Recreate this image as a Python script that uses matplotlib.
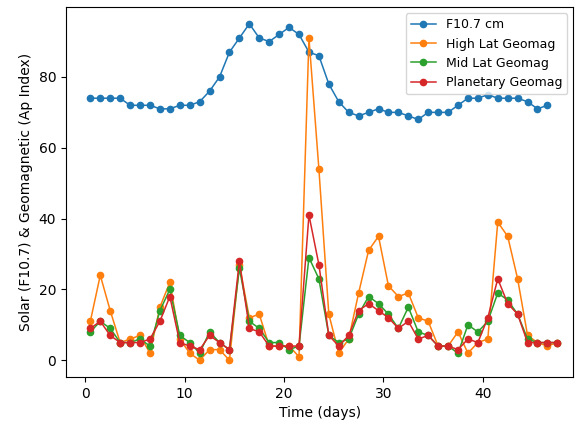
import matplotlib
matplotlib.use("Agg")
import matplotlib.pyplot as plt

days_f107 = [0.5, 1.5, 2.5, 3.5, 4.5, 5.5, 6.5, 7.5, 8.5, 9.5, 10.5, 11.5, 12.5, 13.5, 14.5,
             15.5, 16.5, 17.5, 18.5, 19.5, 20.5, 21.5, 22.5, 23.5, 24.5, 25.5, 26.5, 27.5,
             28.5, 29.5, 30.5, 31.5, 32.5, 33.5, 34.5, 35.5, 36.5, 37.5, 38.5, 39.5, 40.5,
             41.5, 42.5, 43.5, 44.5, 45.5, 46.5]
f107 = [74, 74, 74, 74, 72, 72, 72, 71, 71, 72, 72, 73, 76, 80, 87,
        91, 95, 91, 90, 92, 94, 92, 87, 86, 78, 73, 70, 69,
        70, 71, 70, 70, 69, 68, 70, 70, 70, 72, 74, 74, 75,
        74, 74, 74, 73, 71, 72]

days_geo = days_f107 + [47.5]
high_lat = [11, 24, 14, 5, 6, 7, 2, 15, 22, 6, 2, 0, 3, 3, 0,
            27, 12, 13, 4, 4, 4, 1, 91, 54, 13, 2, 6, 19,
            31, 35, 21, 18, 19, 12, 11, 4, 4, 8, 2, 5, 6,
            39, 35, 23, 7, 5, 4, 5]
mid_lat = [8, 11, 9, 5, 5, 6, 4, 14, 20, 7, 5, 2, 8, 5, 3,
           26, 11, 9, 5, 5, 3, 4, 29, 23, 7, 5, 6, 13,
           18, 16, 13, 9, 15, 8, 7, 4, 4, 2, 10, 8, 11,
           19, 17, 13, 6, 5, 5, 5]
planetary = [9, 11, 7, 5, 5, 5, 6, 11, 18, 5, 4, 3, 7, 5, 3,
             28, 9, 8, 4, 4, 4, 4, 41, 27, 7, 4, 7, 14,
             16, 14, 12, 9, 11, 6, 7, 4, 4, 3, 6, 5, 12,
             23, 16, 13, 5, 5, 5, 5]

fig = plt.figure(figsize=(5.82, 4.28), dpi=100)
ax = fig.add_axes([0.1134, 0.119, 0.8716, 0.8646])

kw = dict(marker='o', markersize=4.5, linewidth=1.1)
ax.plot(days_f107, f107, label='F10.7 cm', **kw)
ax.plot(days_geo, high_lat, label='High Lat Geomag', **kw)
ax.plot(days_geo, mid_lat, label='Mid Lat Geomag', **kw)
ax.plot(days_geo, planetary, label='Planetary Geomag', **kw)

ax.set_xlim(-1.95, 49.1)
ax.set_xlabel('Time (days)')
ax.set_ylabel('Solar (F10.7) & Geomagnetic (Ap Index)')
ax.legend(loc='upper right', fontsize=9)

fig.savefig('out.png', dpi=100)
